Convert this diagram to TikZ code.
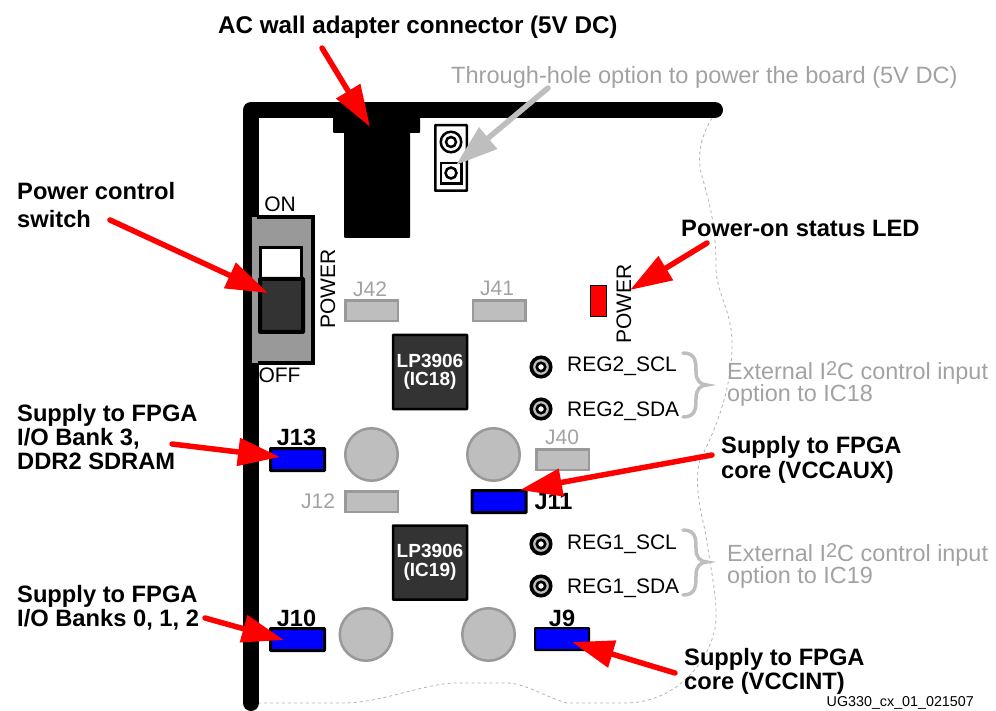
\documentclass[tikz,border=0pt]{standalone}
\usepackage{fontspec}
\setmainfont{Liberation Sans}
\usetikzlibrary{arrows.meta}
\definecolor{chipgray}{HTML}{333333}
\definecolor{partgray}{HTML}{BEBEBE}
\definecolor{linegray}{HTML}{999999}
\definecolor{lightText}{HTML}{A2A2A2}
\newcommand{\squared}{\raisebox{4pt}{\fontsize{20}{20}\selectfont 2}}
\tikzset{
	callout/.style = {font = \fontsize{23.7}{24}\selectfont\bfseries, align = left, inner sep = 0pt, text = black},
	note/.style = {font = \fontsize{23.4}{22}\selectfont, align = left, inner sep = 0pt, text = lightText},
	silk/.style = {font = \fontsize{21}{22}\selectfont, inner sep = 0pt, text = black},
	jumpername/.style = {font = \fontsize{23.5}{24}\selectfont\bfseries, inner sep = 0pt, text = black},
	pointer/.style = {draw = red, line width = 5.5pt, line cap = round, -{Triangle[length = 42pt, width = 27pt]}},
	jumperOn/.style = {draw = black, line width = 3pt, fill = blue, rounded corners = 0.5pt, minimum width = 54pt, minimum height = 22pt, inner sep = 0pt},
	jumperOff/.style = {draw = linegray, line width = 2.5pt, fill = partgray, minimum width = 52.5pt, minimum height = 20.5pt, inner sep = 0pt},
	standoff/.style = {circle, draw = linegray, line width = 2.5pt, fill = partgray, minimum size = 52.5pt, inner sep = 0pt},
	testpoint/.style = {circle, draw = black, line width = 3.6pt, fill = partgray, minimum size = 19.5pt, inner sep = 0pt},
	testhole/.style = {circle, draw = black, line width = 2.6pt, fill = white, minimum size = 8.5pt, inner sep = 0pt},
	chip/.style = {draw = black, line width = 2.5pt, fill = chipgray, rounded corners = 0.5pt, minimum size = 74pt, inner sep = 0pt, text = white, align = center, font = \fontsize{19}{18.5}\selectfont\bfseries},
}
\begin{document}
\begin{tikzpicture}[x = 1pt, y = -1pt]
	\useasboundingbox (0,0) rectangle (996,711);
	% board outline
	\draw [dashed, gray!60, line width = 0.8pt] (712,118) .. controls (700,138) and (696,158) .. (703,180) .. controls (712,212) and (716,230) .. (716,270) .. controls (718,298) and (732,310) .. (732,345) .. controls (732,385) and (718,425) .. (700,460) .. controls (694,480) and (700,510) .. (705,530) .. controls (710,565) and (717,595) .. (716,620) .. controls (714,655) and (680,703) .. (625,703) -- (567,703) .. controls (545,697) and (525,683) .. (507,683) -- (453,683) .. controls (420,685) and (380,703) .. (343,703) -- (257,703);
	\draw [black, line width = 16pt, line cap = round, line join = round] (251,703) -- (251,110) -- (715,110);
	% power jack
	\fill [black, rounded corners = 1pt] (333,110) rectangle (420,133);
	\fill [black, rounded corners = 1pt] (344,120) rectangle (410,238);
	% through-hole pads
	\node (header) [draw = black, line width = 2.5pt, fill = white, rounded corners = 0.5pt, minimum width = 31.5pt, minimum height = 65.5pt, inner sep = 0pt] at (451,158) {};
	\node (padSquare) [draw = black, line width = 2.5pt, minimum width = 20.5pt, minimum height = 20.5pt, inner sep = 0pt] at (451,173.5) {};
	\node (padRound) [circle, draw = black, line width = 2.5pt, minimum size = 20.5pt, inner sep = 0pt] at (451,142) {};
	\node (holeRound) [circle, draw = black, line width = 2.5pt, minimum size = 10pt, inner sep = 0pt] at (451,142) {};
	\node (holeSquare) [circle, draw = black, line width = 2.5pt, minimum size = 11pt, inner sep = 0pt] at (451,173) {};
	% power switch
	\fill [linegray] (252,217) rectangle (313,363);
	\draw [black, line width = 4pt] (257,217) -- (313,217) -- (313,363) -- (258,363);
	\node (slotTop) [draw = black, line width = 3pt, fill = white, minimum width = 41pt, minimum height = 32pt, inner sep = 0pt] at (281,264) {};
	\node (slider) [draw = black, line width = 4pt, fill = chipgray, rounded corners = 0.5pt, minimum width = 43pt, minimum height = 53pt, inner sep = 0pt] at (281.5,305.5) {};
	\node (swOn) [silk] at (280,204) {ON};
	\node (swOff) [silk] at (279.5,375) {OFF};
	\node (swPower) [silk, rotate = 90] at (328,289) {POWER};
	% status led
	\node (led) [draw = black, line width = 0.8pt, fill = red, minimum width = 16pt, minimum height = 31pt, inner sep = 0pt] at (598.5,301) {};
	\node (ledPower) [silk, rotate = 90] at (624,304) {POWER};
	% grey jumpers
	\node (jumperFortyTwo) [jumperOff] at (371.5,311) {};
	\node (labelFortyTwo) [silk, text = lightText] at (370,289) {J42};
	\node (jumperFortyOne) [jumperOff] at (499,311) {};
	\node (labelFortyOne) [silk, text = lightText] at (497,288) {J41};
	\node (jumperForty) [jumperOff] at (562.5,459.5) {};
	\node (labelForty) [silk, text = lightText] at (562,437) {J40};
	\node (jumperTwelve) [jumperOff] at (371.5,501.5) {};
	\node (labelTwelve) [silk, text = lightText] at (318,501) {J12};
	% regulators
	\node (icEighteen) [chip] at (430,372) {LP3906\\(IC18)};
	\node (icNineteen) [chip] at (430,562.5) {LP3906\\(IC19)};
	% standoffs
	\node (holeA) [standoff] at (371.5,454.5) {};
	\node (holeB) [standoff] at (493.5,454.5) {};
	\node (holeC) [standoff] at (366,634.5) {};
	\node (holeD) [standoff] at (488.5,634.5) {};
	% blue jumpers
	\node (jumperThirteen) [jumperOn] at (297.5,459.5) {};
	\node (labelThirteen) [jumpername] at (296.5,437) {J13};
	\node (jumperEleven) [jumperOn] at (499,501.5) {};
	\node (labelEleven) [jumpername] at (553.5,502) {J11};
	\node (jumperTen) [jumperOn] at (297.5,639.5) {};
	\node (labelTen) [jumpername] at (296.5,618) {J10};
	\node (jumperNine) [jumperOn, line width = 2pt] at (562,639) {};
	\node (labelNine) [jumpername] at (562,618) {J9};
	% test points
	\foreach \tpname/\tpy/\tpbase/\tptext in {sclTwo/367/371/REG2\_SCL, sdaTwo/409/416/REG2\_SDA, sclOne/544/549/REG1\_SCL, sdaOne/586/593/REG1\_SDA} {
		\node (\tpname) [testpoint] at (541,\tpy) {};
		\node (\tpname Hole) [testhole] at (541,\tpy) {};
		\node (\tpname Text) [silk, anchor = base west] at (567,\tpbase) {\tptext};
	}
	% braces
	\draw [partgray, line width = 3.5pt, line cap = round] (683,353) .. controls (696,353) and (696,362) .. (696,372) .. controls (696,380) and (700,385) .. (707,385) .. controls (700,385) and (696,390) .. (696,398) .. controls (696,408) and (696,417) .. (683,417);
	\draw [partgray, line width = 3.5pt, line cap = round] (683,530) .. controls (696,530) and (696,539) .. (696,549) .. controls (696,557) and (700,562) .. (707,562) .. controls (700,562) and (696,567) .. (696,575) .. controls (696,586) and (696,595) .. (683,595);
	% notes and callouts
	\node (noteHole) [note, font = \fontsize{23.6}{22}\selectfont, anchor = base west] at (451,84) {Through-hole option to power the board (5V DC)};
	\node (noteIcEighteen) [note, anchor = north west] at (727,361) {External I\squared C control input\\option to IC18};
	\node (noteIcNineteen) [note, anchor = north west] at (727,543) {External I\squared C control input\\option to IC19};
	\node (callAdapter) [callout, font = \fontsize{24.2}{24}\selectfont\bfseries, anchor = base west] at (218,34) {AC wall adapter connector (5V DC)};
	\node (callSwitch) [callout, font = \fontsize{23.7}{28}\selectfont\bfseries, anchor = north west] at (17,182) {Power control\\switch};
	\node (callLed) [callout, anchor = base west] at (681,237) {Power-on status LED};
	\node (callBankThree) [callout, anchor = north west] at (17,404) {Supply to FPGA\\I/O Bank 3,\\DDR2 SDRAM};
	\node (callVccaux) [callout, font = \fontsize{23.7}{25}\selectfont\bfseries, anchor = north west] at (721,436) {Supply to FPGA\\core (VCCAUX)};
	\node (callBanks) [callout, anchor = north west] at (17,585) {Supply to FPGA\\I/O Banks 0, 1, 2};
	\node (callVccint) [callout, anchor = north west] at (684,648) {Supply to FPGA\\core (VCCINT)};
	\node (figId) [inner sep = 0pt, font = \fontsize{14.3}{14}\selectfont, anchor = east] at (974,703) {UG330\_cx\_01\_021507};
	% pointers
	\coordinate (adapterTail) at (322,48);
	\coordinate (adapterTip) at (370,127);
	\coordinate (holeTail) at (548,88);
	\coordinate (holeTip) at (456,165);
	\coordinate (switchTail) at (110,220);
	\coordinate (switchTip) at (268,293);
	\coordinate (ledTail) at (707,243);
	\coordinate (ledTip) at (630,290);
	\coordinate (bankThreeTail) at (172,444);
	\coordinate (bankThreeTip) at (280,457);
	\coordinate (vccauxTail) at (712,455);
	\coordinate (vccauxTip) at (520,490);
	\coordinate (banksTail) at (205,618);
	\coordinate (banksTip) at (284,640);
	\coordinate (vccintTail) at (675,673);
	\coordinate (vccintTip) at (572,642);
	\draw [pointer] (adapterTail) -- (adapterTip);
	\draw [pointer, draw = partgray] (holeTail) -- (holeTip);
	\draw [pointer] (switchTail) -- (switchTip);
	\draw [pointer] (ledTail) -- (ledTip);
	\draw [pointer] (bankThreeTail) -- (bankThreeTip);
	\draw [pointer] (vccauxTail) -- (vccauxTip);
	\draw [pointer] (banksTail) -- (banksTip);
	\draw [pointer] (vccintTail) -- (vccintTip);
\end{tikzpicture}
\end{document}
